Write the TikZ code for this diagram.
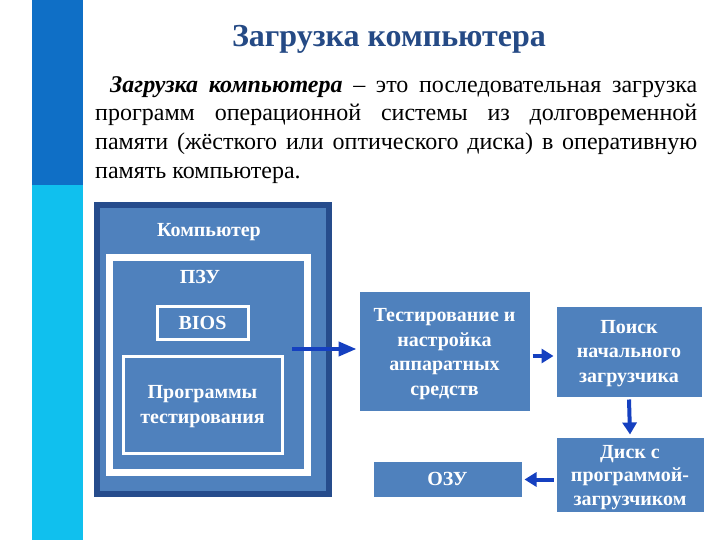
\documentclass[tikz,border=0pt]{standalone}
\usepackage{fontspec}
\setmainfont{Liberation Serif}
\usetikzlibrary{arrows.meta,shadows}
\definecolor{boxblue}{HTML}{4F81BD}
\definecolor{framedark}{HTML}{264C8C}
\definecolor{bardark}{HTML}{0F6FC6}
\definecolor{barcyan}{HTML}{10C0EE}
\definecolor{titleblue}{HTML}{254A85}
\definecolor{arrowblue}{HTML}{1540C0}
\tikzset{
  boxfont/.style={font=\bfseries\fontsize{20}{24.5}\selectfont},
  blockbox/.style={fill=boxblue, draw=white, line width=3pt, text=white, boxfont, align=center, inner sep=0pt, anchor=north west,
    drop shadow={opacity=0.25, shadow xshift=1.5pt, shadow yshift=-1.5pt}},
  lbl/.style={text=white, boxfont, align=center, inner sep=0pt},
  arr/.style={arrowblue, line width=4pt, -{Triangle[length=12pt,width=14pt]}},
}
\begin{document}
\begin{tikzpicture}[x=1pt,y=-1pt]
\useasboundingbox (0,0) rectangle (720,540);
\fill[white] (0,0) rectangle (720,540);
% side bars
\fill[bardark] (32,0) rectangle (83,185);
\fill[barcyan] (32,185) rectangle (83,540);
% title
\node[font=\bfseries\fontsize{32}{36}\selectfont, text=titleblue, anchor=base, inner sep=0pt] (title) at (389,47) {Загрузка компьютера};
% paragraph
\node[anchor=north west, inner sep=0pt, text width=602pt, align=justify, font=\fontsize{24}{28.7}\selectfont] (para) at (95,71.9)
{\setlength{\parindent}{15pt}\indent\strut\textbf{\textit{Загрузка компьютера}} – это последовательная загрузка\linebreak
программ операционной системы из долговременной\linebreak
памяти (жёсткого или оптического диска) в оперативную\linebreak
память компьютера.};
% computer box
\node[fill=boxblue, draw=framedark, line width=6pt, minimum width=232pt, minimum height=289pt, inner sep=0pt, anchor=north west] (comp) at (94,202) {};
\node[lbl] (complbl) at (209,232) {Компьютер};
\node[fill=boxblue, draw=white, line width=7pt, minimum width=198pt, minimum height=215pt, inner sep=0pt, anchor=north west] (pzu) at (105.5,253.5) {};
\node[lbl] (pzulbl) at (200,277) {ПЗУ};
\node[blockbox, minimum width=91pt, minimum height=33pt] (bios) at (155.5,304.5) {BIOS};
\node[blockbox, minimum width=159pt, minimum height=97pt,
  label={[lbl, yshift=-2pt]center:Программы\\тестирования}] (progs) at (121.5,354.5) {};
% flow boxes
\node[blockbox, minimum width=173pt, minimum height=122pt,
  label={[lbl, yshift=-3pt]center:Тестирование и\\настройка\\аппаратных\\средств}] (test) at (356.5,288.5) {};
\node[blockbox, minimum width=148pt, minimum height=93pt,
  label={[lbl, yshift=-2pt]center:Поиск\\начального\\загрузчика}] (search) at (553.5,303.5) {};
\node[blockbox, minimum width=150pt, minimum height=77pt,
  label={[lbl, font=\bfseries\fontsize{20}{23.5}\selectfont, yshift=-3pt]center:Диск с\\программой-\\загрузчиком}] (disk) at (553.5,434.5) {};
\node[blockbox, minimum width=151pt, minimum height=38pt] (ozu) at (370.5,458.5) {ОЗУ};
% arrows
\coordinate (start) at (292,349);
\draw[arr, -{Triangle[length=18pt,width=14pt]}] (start) -- (start -| test.west);
\draw[arr] ([yshift=-5pt]test.east) -- ([yshift=-5pt]test.east -| search.west);
\draw[arr] (search.south) -- (disk.north);
\draw[arr] ([yshift=-5pt]disk.west) -- ([yshift=-5pt]disk.west -| ozu.east);
\end{tikzpicture}
\end{document}
